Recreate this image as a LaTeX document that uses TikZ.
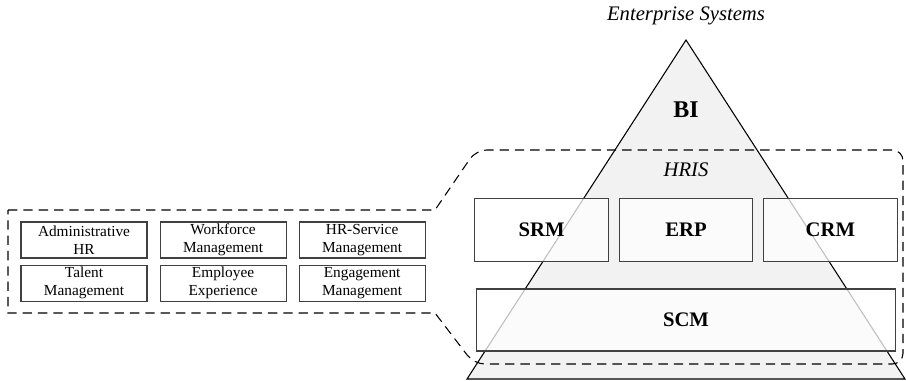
\documentclass[tikz,border=0pt]{standalone}
\usepackage{fontspec}
\setmainfont{Liberation Serif}
\usetikzlibrary{positioning}

\begin{document}
\begin{tikzpicture}[x=0.75pt, y=-0.75pt,
        module/.style={rectangle, draw=black!75, line width=0.8pt, fill=white, fill opacity=0.75, text opacity=1,
            minimum width=94.5pt, minimum height=27pt, inner sep=0pt, align=center,
            font=\fontsize{11.5}{13.5}\selectfont},
        system/.style={rectangle, draw=black!75, line width=0.8pt, fill=white, fill opacity=0.75, text opacity=1,
            minimum width=100pt, minimum height=47.5pt, inner sep=0pt,
            font=\fontsize{15.5}{18}\selectfont\bfseries},
        zone/.style={dash pattern=on 7pt off 4.5pt, line width=0.8pt}]
        \useasboundingbox (0,0) rectangle (906,381);

        % La pyramide
        \draw[fill=black!5, line width=0.8pt] (686,40) -- (905,379) -- (467,379) -- cycle;
        \node (es) at (686,16) {\fontsize{15.5}{18}\selectfont\itshape Enterprise Systems};
        \node (bi) at (686,110) {\fontsize{18}{20}\selectfont\bfseries BI};
        \node (hris) at (686,170) {\fontsize{15.5}{18}\selectfont\itshape HRIS};

        % Les systèmes
        \node (erp) [system] at (686,230) {ERP};
        \node (srm) [system, left=7.5pt of erp] {SRM};
        \node (crm) [system, right=7.5pt of erp] {CRM};
        \node (scm) [system, minimum width=314.25pt, minimum height=46.5pt] at (686,320) {SCM};

        % Les modules RH
        \node (admin) [module] at (84,240) {Administrative\\HR};
        \node (workforce) [module, right=9pt of admin] {Workforce\\Management};
        \node (service) [module, right=9pt of workforce] {HR-Service\\Management};
        \node (talent) [module, below=4.5pt of admin] {Talent\\Management};
        \node (experience) [module, below=4.5pt of workforce] {Employee\\Experience};
        \node (engagement) [module, below=4.5pt of service] {Engagement\\Management};

        % Le cadre en pointillés
        \draw[zone] (8,210) -- (435,210) [rounded corners=8pt] -- (476,150) -- (903,150) -- (903,364)
            -- (474,364) [sharp corners] -- (435,313) -- (8,313) -- cycle;
    \end{tikzpicture}
\end{document}
